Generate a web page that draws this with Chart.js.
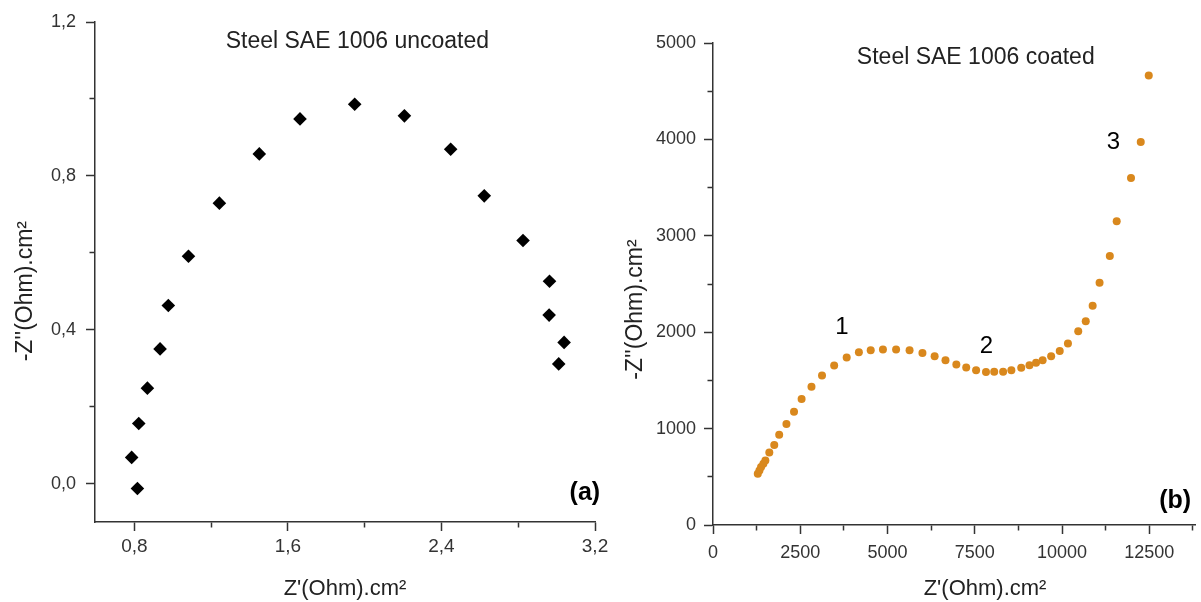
<!DOCTYPE html>
<html>
<head>
<meta charset="utf-8">
<script src="https://cdn.jsdelivr.net/npm/chart.js@4.4.1/dist/chart.umd.min.js"></script>
<style>
  html, body { margin: 0; padding: 0; background: #ffffff; overflow: hidden; width: 1201px; height: 602px; }
  #wrapA { position: absolute; left: 0; top: 0; width: 620px; height: 602px; }
  #wrapB { position: absolute; left: 600px; top: 0; width: 601px; height: 602px; }
</style>
</head>
<body>
<div id="wrapA"><canvas id="cA" width="620" height="602"></canvas></div>
<div id="wrapB"><canvas id="cB" width="601" height="602"></canvas></div>
<script>
// ---------- (a) Steel SAE 1006 uncoated ----------
const zRealA = [0.816, 0.786, 0.823, 0.868, 0.934, 0.977, 1.082, 1.243, 1.451, 1.663, 1.948, 2.207, 2.448, 2.623, 2.825, 2.963, 2.961, 3.039, 3.011];
const zImagA = [-0.013, 0.068, 0.156, 0.248, 0.350, 0.463, 0.591, 0.729, 0.857, 0.948, 0.986, 0.956, 0.869, 0.748, 0.632, 0.526, 0.438, 0.367, 0.311];
const xTicksA = [0.8, 1.2, 1.6, 2.0, 2.4, 2.8, 3.2];
const xMajorA = [0.8, 1.6, 2.4, 3.2];
const yTicksA = [0, 0.2, 0.4, 0.6, 0.8, 1.0, 1.2];
const yMajorA = [0, 0.4, 0.8, 1.2];

// ---------- (b) Steel SAE 1006 coated ----------
const zRealB = [1283, 1330, 1377, 1443, 1500, 1613, 1755, 1896, 2104, 2321, 2538, 2821, 3123, 3471, 3830, 4179, 4518, 4868, 5245, 5631, 6000, 6349, 6660, 6971, 7254, 7537, 7820, 8056, 8311, 8547, 8830, 9066, 9254, 9443, 9687, 9933, 10168, 10463, 10678, 10876, 11074, 11368, 11565, 11975, 12254, 12483];
const zImagB = [532, 566, 601, 635, 670, 752, 831, 935, 1049, 1176, 1307, 1434, 1551, 1655, 1737, 1792, 1813, 1820, 1820, 1813, 1785, 1751, 1710, 1665, 1634, 1606, 1586, 1589, 1589, 1606, 1630, 1658, 1682, 1710, 1751, 1806, 1882, 2009, 2113, 2275, 2512, 2790, 3150, 3600, 3974, 4664];
const xTicksB = [0, 1250, 2500, 3750, 5000, 6250, 7500, 8750, 10000, 11250, 12500, 13750];
const xMajorB = [0, 2500, 5000, 7500, 10000, 12500];
const yTicksB = [0, 500, 1000, 1500, 2000, 2500, 3000, 3500, 4000, 4500, 5000];
const yMajorB = [0, 1000, 2000, 3000, 4000, 5000];

// ---------- texts ----------
const titleA = 'Steel SAE 1006 uncoated';
const titleB = 'Steel SAE 1006 coated';
const xTitle = "Z'(Ohm).cm\u00B2";
const yTitle = "-Z''(Ohm).cm\u00B2";
const panelA = '(a)';
const panelB = '(b)';
const regionLabelsB = ['1', '2', '3'];

const FONT = "'Liberation Sans', Arial, Helvetica, sans-serif";
const AXIS = '#333333';
const ORANGE = '#d9881d';

const textPlugin = {
  id: 'textLabels',
  afterDatasetsDraw(chart, args, opts) {
    const ctx = chart.ctx;
    const xs = chart.scales.x, ys = chart.scales.y;
    ctx.save();
    (opts.items || []).forEach(it => {
      ctx.font = it.font;
      ctx.fillStyle = it.color;
      ctx.textAlign = 'center';
      ctx.textBaseline = 'middle';
      ctx.fillText(it.text, xs.getPixelForValue(it.x), ys.getPixelForValue(it.y));
    });
    ctx.restore();
  }
};

function axisCfg(opts) {
  return {
    type: 'linear',
    position: opts.position,
    min: opts.min,
    max: opts.max,
    afterBuildTicks: s => { s.ticks = opts.ticks.map(v => ({ value: v })); },
    afterFit: s => { if (opts.position === 'left') s.width = opts.size; else s.height = opts.size; },
    border: { display: true, color: AXIS, width: 1.5 },
    grid: {
      display: true,
      drawOnChartArea: false,
      drawTicks: true,
      tickLength: 9,
      tickColor: AXIS,
      tickWidth: 1.5,
      tickBorderDash: ctx => {
        const v = ctx.tick ? ctx.tick.value : null;
        if (opts.major.includes(v)) return [];
        return opts.position === 'left' ? [0, 3.5, 6, 100] : [5, 100];
      }
    },
    ticks: {
      autoSkip: false,
      maxRotation: 0,
      padding: opts.pad,
      color: '#333333',
      font: { family: FONT, size: opts.tickSize || 18 },
      callback: v => opts.major.includes(v) ? opts.fmt(v) : ''
    },
    title: {
      display: true,
      text: opts.title,
      color: '#222222',
      font: { family: FONT, size: opts.titleSize },
      padding: opts.titlePad
    }
  };
}

const commaFmt = v => v.toFixed(1).replace('.', ',');
const intFmt = v => String(v);

new Chart(document.getElementById('cA'), {
  type: 'scatter',
  data: {
    datasets: [{
      data: zRealA.map((x, i) => ({ x: x, y: zImagA[i] })),
      pointStyle: 'rectRot',
      pointRadius: 6.8,
      pointBorderWidth: 0,
      backgroundColor: '#000000',
      borderColor: '#000000'
    }]
  },
  options: {
    responsive: false,
    animation: false,
    layout: { padding: { left: 0, top: 22, right: 25, bottom: 0 } },
    plugins: {
      legend: { display: false },
      tooltip: { enabled: false },
      textLabels: {
        items: [
          { text: titleA, x: 1.962, y: 1.148, font: '23px ' + FONT, color: '#222222' },
          { text: panelA, x: 3.147, y: -0.024, font: 'bold 25px ' + FONT, color: '#000000' }
        ]
      }
    },
    scales: {
      x: axisCfg({ position: 'bottom', min: 0.595, max: 3.2, ticks: xTicksA, major: xMajorA, fmt: commaFmt,
                   size: 80, pad: 4, tickSize: 19, title: xTitle, titleSize: 22, titlePad: { top: 0, bottom: 0 } }),
      y: axisCfg({ position: 'left', min: -0.1, max: 1.2, ticks: yTicksA, major: yMajorA, fmt: commaFmt,
                   size: 95, pad: 10, title: yTitle + '      ', titleSize: 23, titlePad: { top: 11.5, bottom: 0 } })
    }
  },
  plugins: [textPlugin]
});

new Chart(document.getElementById('cB'), {
  type: 'scatter',
  data: {
    datasets: [{
      data: zRealB.map((x, i) => ({ x: x, y: zImagB[i] })),
      pointStyle: 'circle',
      pointRadius: 4,
      pointBorderWidth: 0,
      backgroundColor: ORANGE,
      borderColor: ORANGE
    }]
  },
  options: {
    responsive: false,
    animation: false,
    layout: { padding: { left: 0, top: 43, right: 0, bottom: 0 } },
    plugins: {
      legend: { display: false },
      tooltip: { enabled: false },
      textLabels: {
        items: [
          { text: titleB, x: 7528, y: 4848, font: '23px ' + FONT, color: '#222222' },
          { text: regionLabelsB[0], x: 3694, y: 2055, font: '24px ' + FONT, color: '#000000' },
          { text: regionLabelsB[1], x: 7834, y: 1848, font: '24px ' + FONT, color: '#000000' },
          { text: regionLabelsB[2], x: 11474, y: 3973, font: '24px ' + FONT, color: '#000000' },
          { text: panelB, x: 13241, y: 244, font: 'bold 25px ' + FONT, color: '#000000' }
        ]
      }
    },
    scales: {
      x: axisCfg({ position: 'bottom', min: 0, max: 13836, ticks: xTicksB, major: xMajorB, fmt: intFmt,
                   size: 77, pad: 8, title: '          ' + xTitle, titleSize: 22, titlePad: { top: 0, bottom: 0 } }),
      y: axisCfg({ position: 'left', min: 0, max: 5000, ticks: yTicksB, major: yMajorB, fmt: intFmt,
                   size: 113, pad: 8, title: yTitle + '        ', titleSize: 23, titlePad: { top: 22, bottom: 0 } })
    }
  },
  plugins: [textPlugin]
});
</script>
</body>
</html>
